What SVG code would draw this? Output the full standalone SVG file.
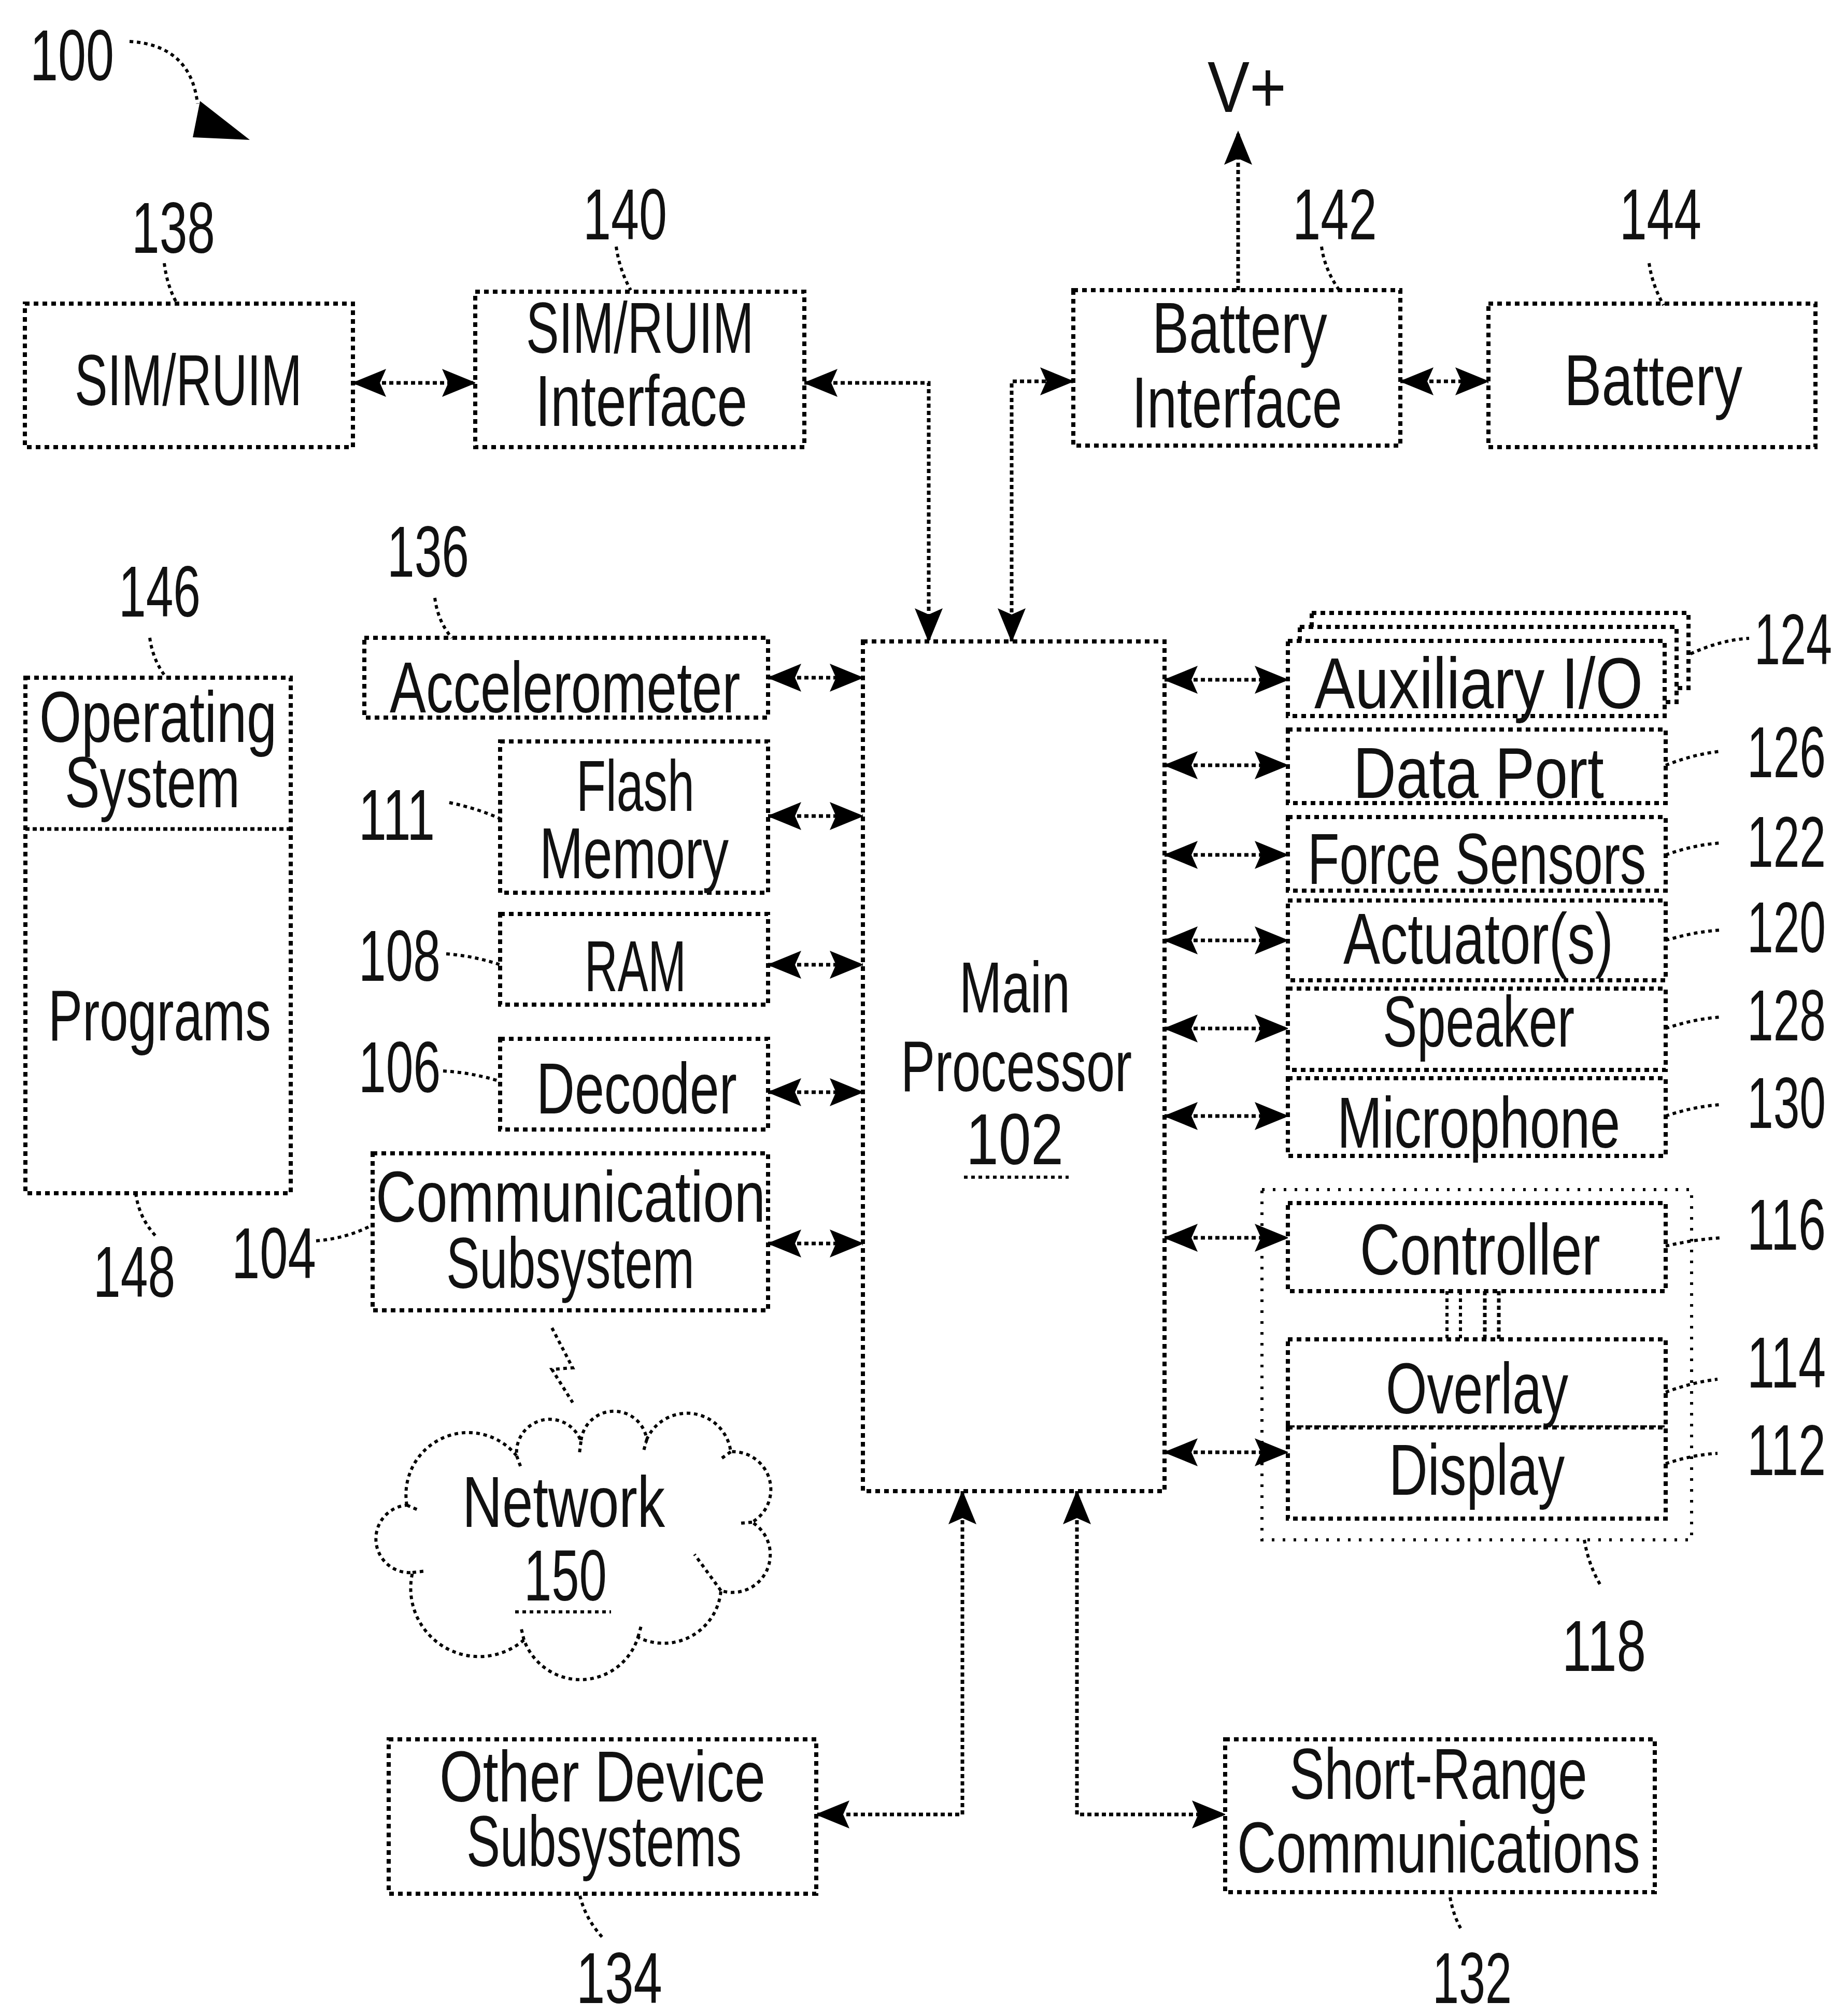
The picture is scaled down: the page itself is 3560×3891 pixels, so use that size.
<svg xmlns="http://www.w3.org/2000/svg" width="3560" height="3891" viewBox="0 0 3560 3891">
<style>
.box{fill:#fff;stroke:#000;stroke-width:8;stroke-dasharray:9 8}
.obox{fill:none;stroke:#000;stroke-width:6;stroke-dasharray:5 16}
.ln{fill:none;stroke:#000;stroke-width:7;stroke-dasharray:8 6}
.ld{fill:none;stroke:#000;stroke-width:6;stroke-dasharray:7 7}
.t{font-family:"Liberation Sans",Arial,sans-serif;fill:#111;font-size:140px}
</style>
<defs>
<marker id="ah" markerUnits="userSpaceOnUse" markerWidth="66" markerHeight="60" viewBox="0 0 66 60" refX="64" refY="30" orient="auto-start-reverse">
<path d="M0,3 L66,30 L0,57 L12,30 z" fill="#000"/>
</marker>
</defs>
<rect width="3560" height="3891" fill="#fff"/>

<g id="fig100">
<text class="t" transform="translate(58,155) scale(0.639,1)" font-size="152" textLength="253.5" lengthAdjust="spacingAndGlyphs">100</text>
<path class="ld" d="M250,80 C320,84 372,118 381,200"/>
<polygon points="386,195 372,265 482,270" fill="#000"/>
</g>

<g id="connectors">
<line class="ln" x1="681" y1="739" x2="917" y2="739" marker-start="url(#ah)" marker-end="url(#ah)"/>
<path class="ln" d="M1552,739 H1792 V1238" marker-start="url(#ah)" marker-end="url(#ah)"/>
<path class="ln" d="M1952,1238 V736 H2071" marker-start="url(#ah)" marker-end="url(#ah)"/>
<line class="ln" x1="2389" y1="560" x2="2389" y2="254" marker-end="url(#ah)"/>
<line class="ln" x1="2702" y1="736" x2="2872" y2="736" marker-start="url(#ah)" marker-end="url(#ah)"/>
<line class="ln" x1="1482" y1="1308" x2="1665" y2="1308" marker-start="url(#ah)" marker-end="url(#ah)"/>
<line class="ln" x1="1482" y1="1575" x2="1665" y2="1575" marker-start="url(#ah)" marker-end="url(#ah)"/>
<line class="ln" x1="1482" y1="1862" x2="1665" y2="1862" marker-start="url(#ah)" marker-end="url(#ah)"/>
<line class="ln" x1="1482" y1="2108" x2="1665" y2="2108" marker-start="url(#ah)" marker-end="url(#ah)"/>
<line class="ln" x1="1482" y1="2400" x2="1665" y2="2400" marker-start="url(#ah)" marker-end="url(#ah)"/>
<line class="ln" x1="2247" y1="1312" x2="2485" y2="1312" marker-start="url(#ah)" marker-end="url(#ah)"/>
<line class="ln" x1="2247" y1="1477" x2="2485" y2="1477" marker-start="url(#ah)" marker-end="url(#ah)"/>
<line class="ln" x1="2247" y1="1650" x2="2485" y2="1650" marker-start="url(#ah)" marker-end="url(#ah)"/>
<line class="ln" x1="2247" y1="1815" x2="2485" y2="1815" marker-start="url(#ah)" marker-end="url(#ah)"/>
<line class="ln" x1="2247" y1="1985" x2="2485" y2="1985" marker-start="url(#ah)" marker-end="url(#ah)"/>
<line class="ln" x1="2247" y1="2154" x2="2485" y2="2154" marker-start="url(#ah)" marker-end="url(#ah)"/>
<line class="ln" x1="2247" y1="2389" x2="2485" y2="2389" marker-start="url(#ah)" marker-end="url(#ah)"/>
<line class="ln" x1="2247" y1="2803" x2="2485" y2="2803" marker-start="url(#ah)" marker-end="url(#ah)"/>
<path class="ln" d="M1857,2878 V3502 H1575" marker-start="url(#ah)" marker-end="url(#ah)"/>
<path class="ln" d="M2078,2878 V3502 H2364" marker-start="url(#ah)" marker-end="url(#ah)"/>
<path class="ld" d="M1065,2563 L1105,2640 L1065,2643 L1105,2707"/>
<line class="ld" x1="2792" y1="2492" x2="2792" y2="2585"/>
<line class="ld" x1="2818" y1="2492" x2="2818" y2="2585"/>
<line class="ln" x1="2865" y1="2492" x2="2865" y2="2585"/>
<line class="ln" x1="2892" y1="2492" x2="2892" y2="2585"/>
</g>

<g id="vplus">
<text class="t" transform="translate(2330,216) scale(0.81,1)" font-size="150" textLength="187.7" lengthAdjust="spacingAndGlyphs">V+</text>
</g>

<g id="n138">
<rect class="box" x="48" y="586" width="633" height="277"/>
<text class="t" transform="translate(144,782) scale(0.618,1)" font-size="154" textLength="710.1" lengthAdjust="spacingAndGlyphs">SIM/RUIM</text>
<text class="t" transform="translate(254,488) scale(0.643,1)" font-size="150" textLength="250.2" lengthAdjust="spacingAndGlyphs">138</text>
<path class="ld" d="M317,508 Q322,550 340,583"/>
</g>

<g id="n140">
<rect class="box" x="917" y="563" width="635" height="300"/>
<text class="t" transform="translate(1015,681) scale(0.657,1)" font-size="145" textLength="668.6" lengthAdjust="spacingAndGlyphs">SIM/RUIM</text>
<text class="t" transform="translate(1033,822) scale(0.751,1)" textLength="544.7" lengthAdjust="spacingAndGlyphs">Interface</text>
<text class="t" transform="translate(1125,462) scale(0.647,1)" font-size="150" textLength="250.2" lengthAdjust="spacingAndGlyphs">140</text>
<path class="ld" d="M1189,476 Q1195,520 1217,560"/>
</g>

<g id="n142">
<rect class="box" x="2071" y="560" width="631" height="300"/>
<text class="t" transform="translate(2223,681) scale(0.762,1)" textLength="443.5" lengthAdjust="spacingAndGlyphs">Battery</text>
<text class="t" transform="translate(2184,825) scale(0.745,1)" textLength="544.7" lengthAdjust="spacingAndGlyphs">Interface</text>
<text class="t" transform="translate(2494,462) scale(0.651,1)" font-size="150" textLength="250.2" lengthAdjust="spacingAndGlyphs">142</text>
<path class="ld" d="M2550,476 Q2556,520 2584,560"/>
</g>

<g id="n144">
<rect class="box" x="2872" y="586" width="631" height="277"/>
<text class="t" transform="translate(3018,782) scale(0.724,1)" font-size="150" textLength="475.2" lengthAdjust="spacingAndGlyphs">Battery</text>
<text class="t" transform="translate(3125,462) scale(0.631,1)" font-size="150" textLength="250.2" lengthAdjust="spacingAndGlyphs">144</text>
<path class="ld" d="M3182,508 Q3188,550 3210,589"/>
</g>

<g id="n102">
<rect class="box" x="1665" y="1238" width="582" height="1640"/>
<text class="t" transform="translate(1851,1954) scale(0.705,1)" textLength="303.4" lengthAdjust="spacingAndGlyphs">Main</text>
<text class="t" transform="translate(1738,2106) scale(0.708,1)" textLength="630.1" lengthAdjust="spacingAndGlyphs">Processor</text>
<text class="t" transform="translate(1864,2247) scale(0.835,1)" font-size="135" textLength="225.2" lengthAdjust="spacingAndGlyphs">102</text>
<line class="ld" x1="1860" y1="2272" x2="2062" y2="2272"/>
</g>

<g id="n146">
<rect class="box" x="49" y="1308" width="512" height="995"/>
<line class="ln" x1="49" y1="1600" x2="561" y2="1600"/>
<text class="t" transform="translate(76,1432) scale(0.767,1)" font-size="136" textLength="597.2" lengthAdjust="spacingAndGlyphs">Operating</text>
<text class="t" transform="translate(125,1558) scale(0.745,1)" font-size="136" textLength="453.4" lengthAdjust="spacingAndGlyphs">System</text>
<text class="t" transform="translate(93,2008) scale(0.684,1)" font-size="145" textLength="628.4" lengthAdjust="spacingAndGlyphs">Programs</text>
<text class="t" transform="translate(229,1190) scale(0.729,1)" font-size="130" textLength="216.8" lengthAdjust="spacingAndGlyphs">146</text>
<path class="ld" d="M289,1231 Q295,1275 321,1308"/>
<text class="t" transform="translate(180,2503) scale(0.702,1)" font-size="135" textLength="225.2" lengthAdjust="spacingAndGlyphs">148</text>
<path class="ld" d="M262,2303 Q268,2350 300,2385"/>
</g>

<g id="n136">
<rect class="box" x="703" y="1231" width="779" height="154"/>
<text class="t" transform="translate(752,1375) scale(0.677,1)" font-size="155" textLength="999.1" lengthAdjust="spacingAndGlyphs">Accelerometer</text>
<text class="t" transform="translate(747,1113) scale(0.729,1)" font-size="130" textLength="216.8" lengthAdjust="spacingAndGlyphs">136</text>
<path class="ld" d="M839,1154 Q845,1200 872,1231"/>
</g>

<g id="n111">
<rect class="box" x="965" y="1431" width="517" height="292"/>
<text class="t" transform="translate(1112,1565) scale(0.666,1)" textLength="342.3" lengthAdjust="spacingAndGlyphs">Flash</text>
<text class="t" transform="translate(1041,1695) scale(0.722,1)" textLength="505.5" lengthAdjust="spacingAndGlyphs">Memory</text>
<text class="t" transform="translate(692,1621) scale(0.63,1)" textLength="233.5" lengthAdjust="spacingAndGlyphs">111</text>
<path class="ld" d="M867,1549 Q920,1560 965,1580"/>
</g>

<g id="n108">
<rect class="box" x="965" y="1764" width="517" height="175"/>
<text class="t" transform="translate(1128,1913) scale(0.588,1)" font-size="150" textLength="333.3" lengthAdjust="spacingAndGlyphs">RAM</text>
<text class="t" transform="translate(692,1893) scale(0.631,1)" font-size="150" textLength="250.2" lengthAdjust="spacingAndGlyphs">108</text>
<path class="ld" d="M861,1841 Q915,1845 965,1862"/>
</g>

<g id="n106">
<rect class="box" x="965" y="2005" width="517" height="175"/>
<text class="t" transform="translate(1035,2149) scale(0.706,1)" font-size="145" textLength="548" lengthAdjust="spacingAndGlyphs">Decoder</text>
<text class="t" transform="translate(692,2108) scale(0.677,1)" textLength="233.5" lengthAdjust="spacingAndGlyphs">106</text>
<path class="ld" d="M855,2067 Q910,2070 965,2087"/>
</g>

<g id="n104">
<rect class="box" x="719" y="2226" width="763" height="303"/>
<text class="t" transform="translate(725,2358) scale(0.796,1)" font-size="136" textLength="944.7" lengthAdjust="spacingAndGlyphs">Communication</text>
<text class="t" transform="translate(861,2486) scale(0.712,1)" font-size="136" textLength="672.7" lengthAdjust="spacingAndGlyphs">Subsystem</text>
<text class="t" transform="translate(447,2467) scale(0.651,1)" font-size="150" textLength="250.2" lengthAdjust="spacingAndGlyphs">104</text>
<path class="ld" d="M610,2395 Q670,2390 719,2364"/>
</g>

<g id="n150">
<path class="ld" d="M785,2905 A120,120 0 0 1 997,2810 A64,64 0 0 1 1121,2782 A64,64 0 0 1 1248,2778 A85,85 0 0 1 1410,2802 A73,73 0 0 1 1451,2938 A73,73 0 0 1 1391,3070 A111,111 0 0 1 1231,3160 A116,116 0 0 1 1011,3165 A132,132 0 0 1 796,3035 A65,65 0 0 1 785,2905 Z"/>
<path class="ld" d="M785,2905 L808,2915 M997,2810 L1005,2832 M1121,2782 L1118,2805 M1248,2778 L1242,2800 M1410,2802 L1392,2815 M1451,2938 L1428,2940 M1391,3070 L1340,3000 M1231,3160 L1238,3135 M1011,3165 L1005,3140 M796,3035 L822,3032"/>
<text class="t" transform="translate(892,2947) scale(0.762,1)" textLength="513.4" lengthAdjust="spacingAndGlyphs">Network</text>
<text class="t" transform="translate(1011,3089) scale(0.685,1)" textLength="233.5" lengthAdjust="spacingAndGlyphs">150</text>
<line class="ld" x1="994" y1="3111" x2="1179" y2="3111"/>
</g>

<g id="n134">
<rect class="box" x="750" y="3357" width="825" height="298"/>
<text class="t" transform="translate(848,3477) scale(0.781,1)" font-size="138" textLength="805.2" lengthAdjust="spacingAndGlyphs">Other Device</text>
<text class="t" transform="translate(900,3602) scale(0.717,1)" font-size="136" textLength="740.7" lengthAdjust="spacingAndGlyphs">Subsystems</text>
<text class="t" transform="translate(1112,3866) scale(0.686,1)" font-size="145" textLength="241.9" lengthAdjust="spacingAndGlyphs">134</text>
<path class="ld" d="M1119,3659 Q1130,3705 1165,3742"/>
</g>

<g id="n132">
<rect class="box" x="2364" y="3357" width="829" height="295"/>
<text class="t" transform="translate(2488,3472) scale(0.724,1)" textLength="793.7" lengthAdjust="spacingAndGlyphs">Short-Range</text>
<text class="t" transform="translate(2387,3614) scale(0.746,1)" textLength="1042.4" lengthAdjust="spacingAndGlyphs">Communications</text>
<text class="t" transform="translate(2764,3866) scale(0.633,1)" font-size="145" textLength="241.9" lengthAdjust="spacingAndGlyphs">132</text>
<path class="ld" d="M2798,3662 Q2805,3700 2821,3726"/>
</g>

<g id="n124">
<rect class="box" x="2531" y="1183" width="727" height="145"/>
<rect class="box" x="2508" y="1210" width="727" height="145"/>
<rect class="box" x="2485" y="1237" width="727" height="145"/>
<text class="t" transform="translate(2536,1367) scale(0.84,1)" textLength="754.6" lengthAdjust="spacingAndGlyphs">Auxiliary I/O</text>
<text class="t" transform="translate(3385,1282) scale(0.642,1)" textLength="233.5" lengthAdjust="spacingAndGlyphs">124</text>
<path class="ld" d="M3262,1262 Q3320,1235 3375,1232"/>
</g>

<g id="n126">
<rect class="box" x="2485" y="1408" width="729" height="142"/>
<text class="t" transform="translate(2611,1540) scale(0.79,1)" font-size="145" textLength="612.5" lengthAdjust="spacingAndGlyphs">Data Port</text>
<text class="t" transform="translate(3371,1500) scale(0.651,1)" textLength="233.5" lengthAdjust="spacingAndGlyphs">126</text>
<path class="ld" d="M3214,1477 Q3270,1455 3321,1450"/>
</g>

<g id="n122">
<rect class="box" x="2485" y="1577" width="729" height="142"/>
<text class="t" transform="translate(2523,1706) scale(0.693,1)" font-size="145" textLength="942.8" lengthAdjust="spacingAndGlyphs">Force Sensors</text>
<text class="t" transform="translate(3371,1673) scale(0.651,1)" textLength="233.5" lengthAdjust="spacingAndGlyphs">122</text>
<path class="ld" d="M3214,1650 Q3270,1630 3321,1627"/>
</g>

<g id="n120">
<rect class="box" x="2485" y="1738" width="729" height="154"/>
<text class="t" transform="translate(2592,1860) scale(0.761,1)" textLength="684.6" lengthAdjust="spacingAndGlyphs">Actuator(s)</text>
<text class="t" transform="translate(3371,1838) scale(0.651,1)" textLength="233.5" lengthAdjust="spacingAndGlyphs">120</text>
<path class="ld" d="M3214,1815 Q3270,1798 3321,1795"/>
</g>

<g id="n128">
<rect class="box" x="2485" y="1908" width="729" height="157"/>
<text class="t" transform="translate(2668,2020) scale(0.71,1)" textLength="521.4" lengthAdjust="spacingAndGlyphs">Speaker</text>
<text class="t" transform="translate(3371,2008) scale(0.651,1)" textLength="233.5" lengthAdjust="spacingAndGlyphs">128</text>
<path class="ld" d="M3214,1985 Q3270,1966 3321,1963"/>
</g>

<g id="n130">
<rect class="box" x="2485" y="2081" width="729" height="150"/>
<text class="t" transform="translate(2580,2215) scale(0.721,1)" font-size="145" textLength="757.5" lengthAdjust="spacingAndGlyphs">Microphone</text>
<text class="t" transform="translate(3371,2177) scale(0.651,1)" textLength="233.5" lengthAdjust="spacingAndGlyphs">130</text>
<path class="ld" d="M3214,2154 Q3270,2135 3321,2132"/>
</g>

<g id="n118">
<rect class="obox" x="2435" y="2296" width="829" height="676"/>
<text class="t" transform="translate(3014,3225) scale(0.694,1)" textLength="233.5" lengthAdjust="spacingAndGlyphs">118</text>
<path class="ld" d="M3057,2972 Q3065,3020 3088,3059"/>
</g>

<g id="n116">
<rect class="box" x="2485" y="2322" width="729" height="170"/>
<text class="t" transform="translate(2624,2460) scale(0.738,1)" font-size="145" textLength="628.4" lengthAdjust="spacingAndGlyphs">Controller</text>
<text class="t" transform="translate(3371,2412) scale(0.628,1)" font-size="145" textLength="241.9" lengthAdjust="spacingAndGlyphs">116</text>
<path class="ld" d="M3214,2405 Q3270,2392 3321,2389"/>
</g>

<g id="n114">
<rect class="box" x="2485" y="2585" width="729" height="170"/>
<text class="t" transform="translate(2674,2728) scale(0.73,1)" textLength="482.3" lengthAdjust="spacingAndGlyphs">Overlay</text>
<text class="t" transform="translate(3371,2678) scale(0.651,1)" textLength="233.5" lengthAdjust="spacingAndGlyphs">114</text>
<path class="ld" d="M3214,2687 Q3265,2668 3314,2662"/>
</g>

<g id="n112">
<rect class="box" x="2485" y="2755" width="729" height="176"/>
<text class="t" transform="translate(2680,2885) scale(0.739,1)" textLength="458.9" lengthAdjust="spacingAndGlyphs">Display</text>
<text class="t" transform="translate(3371,2847) scale(0.651,1)" textLength="233.5" lengthAdjust="spacingAndGlyphs">112</text>
<path class="ld" d="M3214,2825 Q3265,2808 3314,2805"/>
</g>
</svg>
